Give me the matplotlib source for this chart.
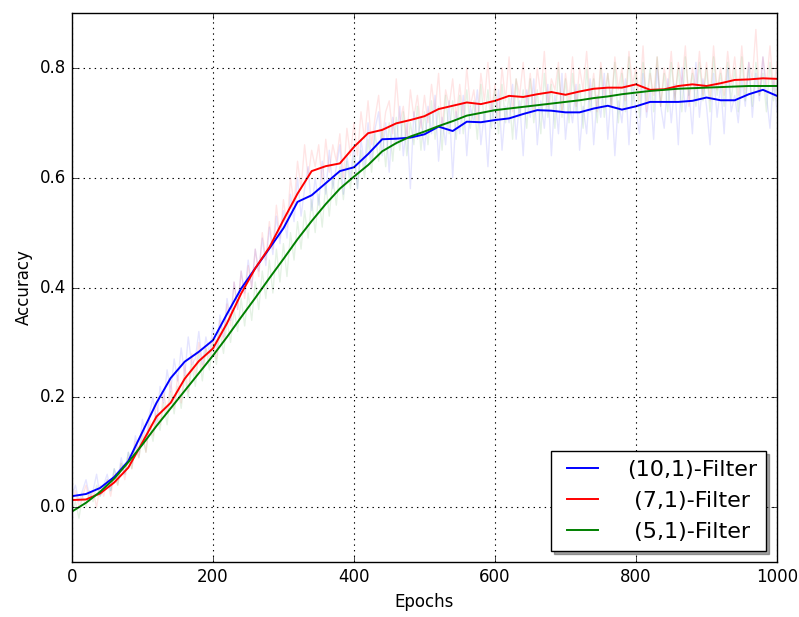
import matplotlib
matplotlib.use("Agg")
import matplotlib.pyplot as plt

plt.style.use("classic")
plt.rcParams["font.family"] = ["DejaVu Sans"]

# ---- data -------------------------------------------------------------
epochs_smooth = list(range(0, 1001, 20))
epochs_raw = list(range(0, 1001, 5))

smooth_10 = [0.020, 0.024, 0.035, 0.055, 0.084, 0.137, 0.190, 0.235, 0.265, 0.283,
             0.304, 0.352, 0.398, 0.435, 0.471, 0.508, 0.556, 0.568, 0.590, 0.612,
             0.619, 0.643, 0.670, 0.671, 0.673, 0.679, 0.693, 0.685, 0.702, 0.701,
             0.705, 0.708, 0.716, 0.723, 0.722, 0.719, 0.719, 0.726, 0.731, 0.724,
             0.730, 0.738, 0.738, 0.738, 0.740, 0.746, 0.741, 0.741, 0.752, 0.760,
             0.749]
smooth_7 = [0.013, 0.014, 0.025, 0.045, 0.072, 0.118, 0.165, 0.190, 0.234, 0.266,
            0.289, 0.335, 0.389, 0.435, 0.473, 0.523, 0.571, 0.612, 0.621, 0.626,
            0.656, 0.681, 0.687, 0.699, 0.705, 0.712, 0.725, 0.731, 0.737, 0.734,
            0.740, 0.749, 0.747, 0.752, 0.756, 0.751, 0.757, 0.762, 0.764, 0.764,
            0.770, 0.760, 0.761, 0.767, 0.770, 0.767, 0.772, 0.778, 0.779, 0.781,
            0.780]
smooth_5 = [-0.008, 0.008, 0.028, 0.052, 0.082, 0.114, 0.148, 0.180, 0.212, 0.244,
            0.276, 0.310, 0.346, 0.381, 0.417, 0.452, 0.488, 0.521, 0.552, 0.580,
            0.602, 0.623, 0.648, 0.663, 0.675, 0.684, 0.694, 0.703, 0.713, 0.718,
            0.723, 0.726, 0.729, 0.732, 0.735, 0.738, 0.741, 0.745, 0.748, 0.752,
            0.755, 0.758, 0.760, 0.762, 0.763, 0.764, 0.765, 0.766, 0.767, 0.767,
            0.767]

raw_10 = [0.02, 0.04, 0.01, 0.03, 0.05, 0.02, 0.03, 0.06, 0.02, 0.04,
          0.06, 0.03, 0.07, 0.05, 0.09, 0.06, 0.10, 0.08, 0.13, 0.10,
          0.16, 0.12, 0.17, 0.20, 0.15, 0.22, 0.19, 0.25, 0.21, 0.27,
          0.23, 0.29, 0.24, 0.31, 0.26, 0.27, 0.32, 0.26, 0.31, 0.28,
          0.33, 0.29, 0.35, 0.31, 0.38, 0.34, 0.41, 0.36, 0.43, 0.39,
          0.45, 0.40, 0.47, 0.43, 0.49, 0.44, 0.51, 0.46, 0.53, 0.48,
          0.54, 0.49, 0.57, 0.52, 0.60, 0.53, 0.58, 0.62, 0.54, 0.60,
          0.55, 0.63, 0.57, 0.65, 0.58, 0.62, 0.66, 0.57, 0.64, 0.60,
          0.66, 0.58, 0.67, 0.62, 0.70, 0.63, 0.69, 0.72, 0.64, 0.70,
          0.61, 0.71, 0.66, 0.73, 0.64, 0.70, 0.58, 0.72, 0.67, 0.71,
          0.65, 0.73, 0.68, 0.75, 0.63, 0.71, 0.66, 0.74, 0.60, 0.72,
          0.68, 0.75, 0.64, 0.73, 0.70, 0.76, 0.66, 0.72, 0.62, 0.74,
          0.69, 0.76, 0.65, 0.73, 0.70, 0.77, 0.67, 0.74, 0.64, 0.76,
          0.71, 0.78, 0.66, 0.74, 0.69, 0.77, 0.64, 0.75, 0.68, 0.79,
          0.67, 0.74, 0.70, 0.77, 0.65, 0.73, 0.68, 0.78, 0.66, 0.75,
          0.71, 0.79, 0.67, 0.76, 0.64, 0.74, 0.70, 0.78, 0.66, 0.77,
          0.72, 0.68, 0.79, 0.71, 0.76, 0.67, 0.80, 0.73, 0.69, 0.78,
          0.70, 0.77, 0.66, 0.80, 0.72, 0.76, 0.68, 0.81, 0.71, 0.78,
          0.73, 0.66, 0.79, 0.71, 0.77, 0.68, 0.80, 0.72, 0.75, 0.70,
          0.78, 0.73, 0.81, 0.71, 0.79, 0.74, 0.82, 0.75, 0.69, 0.78,
          0.72]
raw_7 = [0.01, 0.03, 0.00, 0.02, 0.04, 0.01, 0.03, 0.00, 0.04, 0.02,
         0.05, 0.02, 0.06, 0.04, 0.08, 0.05, 0.09, 0.07, 0.12, 0.09,
         0.14, 0.10, 0.16, 0.13, 0.19, 0.15, 0.21, 0.17, 0.23, 0.18,
         0.24, 0.19, 0.26, 0.21, 0.28, 0.24, 0.30, 0.25, 0.29, 0.27,
         0.31, 0.27, 0.34, 0.30, 0.37, 0.33, 0.41, 0.36, 0.43, 0.38,
         0.44, 0.40, 0.47, 0.42, 0.50, 0.45, 0.52, 0.47, 0.55, 0.49,
         0.56, 0.51, 0.60, 0.55, 0.63, 0.58, 0.66, 0.60, 0.65, 0.62,
         0.66, 0.59, 0.67, 0.61, 0.66, 0.63, 0.68, 0.60, 0.69, 0.64,
         0.70, 0.64, 0.72, 0.67, 0.74, 0.66, 0.71, 0.75, 0.67, 0.72,
         0.74, 0.68, 0.78, 0.70, 0.73, 0.67, 0.76, 0.71, 0.75, 0.69,
         0.75, 0.70, 0.77, 0.72, 0.79, 0.69, 0.76, 0.73, 0.78, 0.71,
         0.77, 0.71, 0.80, 0.73, 0.76, 0.70, 0.79, 0.74, 0.81, 0.72,
         0.77, 0.71, 0.80, 0.74, 0.82, 0.72, 0.78, 0.75, 0.81, 0.73,
         0.79, 0.72, 0.80, 0.75, 0.83, 0.73, 0.78, 0.76, 0.81, 0.72,
         0.79, 0.74, 0.82, 0.73, 0.80, 0.76, 0.83, 0.74, 0.79, 0.72,
         0.81, 0.75, 0.79, 0.73, 0.82, 0.76, 0.80, 0.74, 0.83, 0.77,
         0.80, 0.74, 0.84, 0.72, 0.79, 0.75, 0.82, 0.73, 0.80, 0.76,
         0.83, 0.74, 0.81, 0.77, 0.84, 0.73, 0.80, 0.76, 0.83, 0.75,
         0.81, 0.74, 0.84, 0.76, 0.80, 0.75, 0.83, 0.77, 0.82, 0.75,
         0.84, 0.76, 0.81, 0.78, 0.87, 0.75, 0.82, 0.77, 0.84, 0.76,
         0.81]
raw_5 = [-0.01, 0.01, -0.02, 0.02, 0.00, 0.03, 0.01, 0.04, 0.02, 0.03,
         0.05, 0.03, 0.07, 0.04, 0.08, 0.06, 0.10, 0.07, 0.11, 0.09,
         0.13, 0.10, 0.15, 0.12, 0.17, 0.14, 0.19, 0.15, 0.21, 0.17,
         0.22, 0.18, 0.24, 0.20, 0.26, 0.22, 0.28, 0.23, 0.29, 0.25,
         0.30, 0.26, 0.32, 0.28, 0.34, 0.30, 0.36, 0.32, 0.38, 0.33,
         0.39, 0.34, 0.41, 0.36, 0.43, 0.38, 0.45, 0.39, 0.47, 0.41,
         0.48, 0.42, 0.50, 0.45, 0.52, 0.47, 0.54, 0.49, 0.56, 0.50,
         0.57, 0.51, 0.59, 0.53, 0.60, 0.55, 0.62, 0.56, 0.63, 0.58,
         0.64, 0.58, 0.65, 0.60, 0.67, 0.61, 0.68, 0.63, 0.69, 0.62,
         0.70, 0.63, 0.71, 0.65, 0.72, 0.64, 0.70, 0.66, 0.73, 0.65,
         0.72, 0.66, 0.74, 0.67, 0.73, 0.65, 0.75, 0.68, 0.74, 0.67,
         0.75, 0.68, 0.76, 0.69, 0.74, 0.67, 0.77, 0.70, 0.76, 0.69,
         0.76, 0.68, 0.77, 0.70, 0.75, 0.67, 0.78, 0.71, 0.76, 0.69,
         0.78, 0.70, 0.76, 0.68, 0.79, 0.71, 0.77, 0.69, 0.80, 0.71,
         0.78, 0.70, 0.79, 0.72, 0.77, 0.69, 0.80, 0.72, 0.78, 0.70,
         0.80, 0.71, 0.79, 0.73, 0.81, 0.70, 0.79, 0.72, 0.82, 0.73,
         0.79, 0.71, 0.81, 0.74, 0.80, 0.72, 0.82, 0.73, 0.79, 0.72,
         0.81, 0.74, 0.80, 0.72, 0.82, 0.75, 0.79, 0.73, 0.81, 0.74,
         0.80, 0.72, 0.82, 0.75, 0.79, 0.73, 0.81, 0.74, 0.80, 0.72,
         0.82, 0.74, 0.80, 0.73, 0.81, 0.75, 0.79, 0.72, 0.81, 0.74,
         0.78]

labels = ["(10,1)-Filter", " (7,1)-Filter", " (5,1)-Filter"]
colors = ["b", "r", "g"]

# ---- plot -------------------------------------------------------------
fig = plt.figure(figsize=(7.99, 6.17), dpi=100, facecolor="white")
ax = fig.add_axes([0.090, 0.089, 0.8825, 0.890])
ax.set_facecolor("white")

for raw, c in zip([raw_10, raw_7, raw_5], colors):
    ax.plot(epochs_raw, raw, color=c, alpha=0.1, lw=1.0)
for sm, c, lab in zip([smooth_10, smooth_7, smooth_5], colors, labels):
    ax.plot(epochs_smooth, sm, color=c, lw=1.4, label=lab)

ax.set_xlim(0, 1000)
ax.set_ylim(-0.1, 0.9)
ax.set_xticks([0, 200, 400, 600, 800, 1000])
ax.set_yticks([0.0, 0.2, 0.4, 0.6, 0.8])
ax.grid(True, color="k", linestyle=":", linewidth=0.8)
ax.set_xlabel("Epochs", fontsize=12)
ax.set_ylabel("Accuracy", fontsize=12)
ax.tick_params(labelsize=12)

leg = ax.legend(loc="lower right", shadow=True, fontsize=16, handlelength=2.0,
                handletextpad=1.0, fancybox=False)
leg.get_frame().set_edgecolor("black")

fig.savefig("out.png", dpi=100, facecolor="white")
